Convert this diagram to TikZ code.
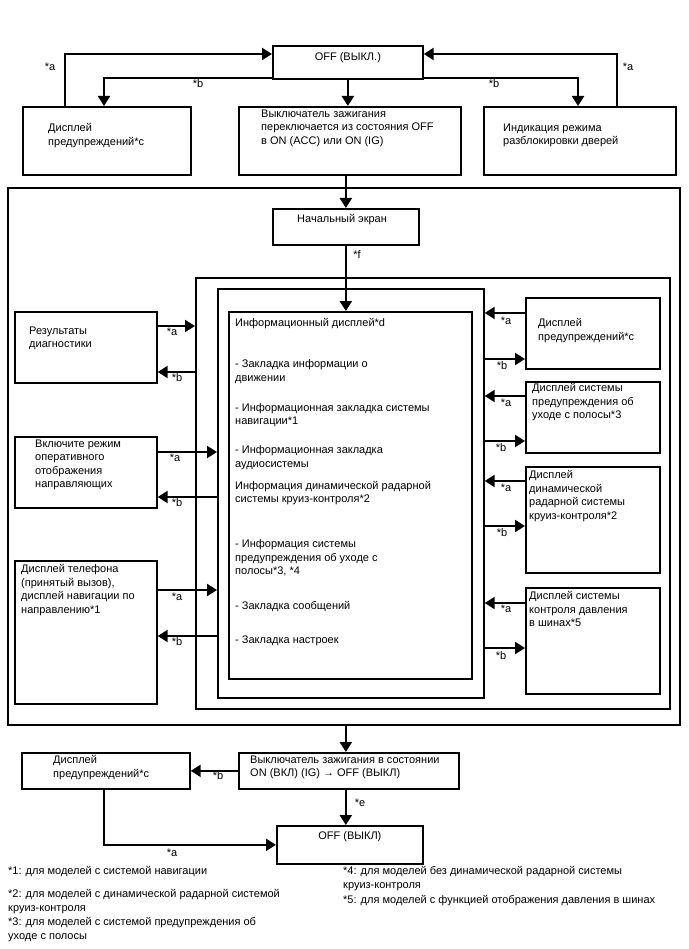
\documentclass[tikz,border=0pt]{standalone}
\usepackage{fontspec}
\setmainfont{Liberation Sans}
\usetikzlibrary{arrows.meta}

\begin{document}
\begin{tikzpicture}[x=1pt,y=-1pt]
	\tikzset{box/.style={draw,line width=1.7pt,anchor=north west,inner sep=0pt},
		txt/.style={anchor=north west,inner sep=0pt,align=left,font=\fontsize{11}{13.5}\selectfont,execute at begin node=\strut},
		note/.style={anchor=north west,inner sep=0pt,align=left,font=\fontsize{11}{13.5}\selectfont,execute at begin node=\strut},
		lbl/.style={inner sep=0pt,font=\fontsize{11}{13}\selectfont},
		arr/.style={line width=2.2pt,-{Triangle[length=10pt,width=12pt]}}}
	\useasboundingbox (0,0) rectangle (688,949);
	
	\node[box,minimum width=150pt,minimum height=33pt] (offtop) at (272,45) {};
	\node[box,minimum width=168pt,minimum height=68pt] (warn1) at (22,106) {};
	\node[box,minimum width=222pt,minimum height=68pt] (ign1) at (238,106) {};
	\node[box,minimum width=192pt,minimum height=68pt] (door) at (483,106) {};
	\node[lbl,anchor=north] (offtopt) at ([yshift=-7pt]offtop.north) {OFF (ВЫКЛ.)};
	\node[txt] (warn1t) at (48,123.5) {Дисплей\\предупреждений*c};
	\node[txt] (ign1t) at (261,109.5) {Выключатель зажигания\\переключается из состояния OFF\\в ON (ACC) или ON (IG)};
	\node[txt] (doort) at (503,123.5) {Индикация режима\\разблокировки дверей};
	
	\draw[arr] ([xshift=43pt]warn1.north west) |- ([yshift=-9pt]offtop.north west);
	\draw[arr] ([yshift=1.5pt]offtop.south west) -| ([xshift=82pt]warn1.north west);
	\draw[arr] ([yshift=1.5pt]offtop.south east) -| ([xshift=95pt]door.north west);
	\draw[arr] ([xshift=134pt]door.north west) |- ([yshift=-9pt]offtop.north east);
	\draw[arr] (offtop.south) -- (offtop.south |- ign1.north);
	\node[lbl] (a1) at (50,67) {*a};
	\node[lbl] (b1) at (198,84) {*b};
	\node[lbl] (b2) at (494,84) {*b};
	\node[lbl] (a2) at (628,67) {*a};
	
	\node[box,minimum width=672pt,minimum height=537pt] (frame) at (7,187) {};
	\node[box,minimum width=146pt,minimum height=36pt] (start) at (272,208) {};
	\node[txt] (startt) at (297,212.5) {Начальный экран};
	\node[box,minimum width=474pt,minimum height=431pt] (frame2) at (195,277) {};
	\node[box,minimum width=266pt,minimum height=409pt] (frame3) at (217,288) {};
	\node[box,minimum width=243pt,minimum height=367pt] (info) at (228,311) {};
	\node[txt] (infot) at (235,318.5) {Информационный дисплей*d\\[27.5pt]
		- Закладка информации о\\движении\\[16.5pt]
		- Информационная закладка системы\\навигации*1\\[15.5pt]
		- Информационная закладка\\аудиосистемы\\[8.5pt]
		Информация динамической радарной\\системы круиз-контроля*2\\[31.5pt]
		- Информация системы\\предупреждения об уходе с\\полосы*3, *4\\[21.5pt]
		- Закладка сообщений\\[20.5pt]
		- Закладка настроек};
	\draw[arr] (start.north |- ign1.south) -- (start.north);
	\draw[arr] (start.south) -- (start.south |- info.north);
	\node[lbl] (f1) at (357,255) {*f};
	
	\node[box,minimum width=142pt,minimum height=71pt] (diag) at (14,311) {};
	\node[box,minimum width=142pt,minimum height=71pt] (guide) at (14,436) {};
	\node[box,minimum width=142pt,minimum height=143pt] (phone) at (14,560) {};
	\node[txt] (diagt) at (29,326.5) {Результаты\\диагностики};
	\node[txt] (guidet) at (35,439.5) {Включите режим\\оперативного\\отображения\\направляющих};
	\node[txt] (phonet) at (21,564.5) {Дисплей телефона\\(принятый вызов),\\дисплей навигации по\\направлению*1};
	\draw[arr] (diag.east |- 0,326) -- (frame2.west |- 0,326);
	\draw[arr] (frame2.west |- 0,372) -- (diag.east |- 0,372);
	\draw[arr] (guide.east |- 0,452) -- (frame3.west |- 0,452);
	\draw[arr] (frame3.west |- 0,497) -- (guide.east |- 0,497);
	\draw[arr] (phone.east |- 0,590) -- (frame3.west |- 0,590);
	\draw[arr] (frame3.west |- 0,636) -- (phone.east |- 0,636);
	\node[lbl] (a3) at (172,332) {*a};
	\node[lbl] (b3) at (177,378) {*b};
	\node[lbl] (a4) at (175,458) {*a};
	\node[lbl] (b4) at (177,503) {*b};
	\node[lbl] (a5) at (177,597) {*a};
	\node[lbl] (b5) at (177,642) {*b};
	
	\node[box,minimum width=134pt,minimum height=71pt] (warn2) at (525,297) {};
	\node[box,minimum width=134pt,minimum height=71pt] (lane) at (525,381) {};
	\node[box,minimum width=134pt,minimum height=106pt] (acc) at (525,466) {};
	\node[box,minimum width=134pt,minimum height=106pt] (tire) at (525,587) {};
	\node[txt] (warn2t) at (538,318.5) {Дисплей\\предупреждений*c};
	\node[txt] (lanet) at (532,383.5) {Дисплей системы\\предупреждения об\\уходе с полосы*3};
	\node[txt] (acct) at (529,470.5) {Дисплей\\динамической\\радарной системы\\круиз-контроля*2};
	\node[txt] (tiret) at (529,591.5) {Дисплей системы\\контроля давления\\в шинах*5};
	\draw[arr] (warn2.west |- 0,313) -- (frame3.east |- 0,313);
	\draw[arr] (frame3.east |- 0,359) -- (warn2.west |- 0,359);
	\draw[arr] (lane.west |- 0,396) -- (frame3.east |- 0,396);
	\draw[arr] (frame3.east |- 0,441) -- (lane.west |- 0,441);
	\draw[arr] (acc.west |- 0,481) -- (frame3.east |- 0,481);
	\draw[arr] (frame3.east |- 0,526) -- (acc.west |- 0,526);
	\draw[arr] (tire.west |- 0,603) -- (frame3.east |- 0,603);
	\draw[arr] (frame3.east |- 0,648) -- (tire.west |- 0,648);
	\node[lbl] (a6) at (506,321) {*a};
	\node[lbl] (b6) at (502,366) {*b};
	\node[lbl] (a7) at (506,403) {*a};
	\node[lbl] (b7) at (501,448) {*b};
	\node[lbl] (a8) at (506,488) {*a};
	\node[lbl] (b8) at (502,533) {*b};
	\node[lbl] (a9) at (506,609) {*a};
	\node[lbl] (b9) at (501,656) {*b};
	
	\node[box,minimum width=220pt,minimum height=36pt] (ign2) at (238,752) {};
	\node[box,minimum width=168pt,minimum height=36pt] (warn3) at (21,752) {};
	\node[box,minimum width=146pt,minimum height=38pt] (offbot) at (276,825) {};
	\node[txt] (ign2t) at (250,755.5) {Выключатель зажигания в состоянии\\ON (ВКЛ) (IG) → OFF (ВЫКЛ)};
	\node[txt] (warn3t) at (53,755.5) {Дисплей\\предупреждений*c};
	\node[lbl,anchor=north] (offbott) at ([yshift=-6pt]offbot.north) {OFF (ВЫКЛ)};
	\draw[arr] (frame.south -| start) -- (ign2.north -| start);
	\draw[arr] (ign2.west) -- (warn3.east |- ign2.west);
	\draw[arr] (ign2.south -| start) -- (offbot.north -| start);
	\draw[arr] ([xshift=83pt]warn3.south west) |- (offbot.west);
	\node[lbl] (b10) at (218,776) {*b};
	\node[lbl] (e1) at (360,803) {*e};
	\node[lbl] (a10) at (172,853) {*a};
	
	\node[note] (fn1) at (8,864.5) {*1: для моделей с системой навигации};
	\node[note] (fn2) at (8,889.5) {*2: для моделей с динамической радарной системой\\круиз-контроля};
	\node[note] (fn3) at (8,917.5) {*3: для моделей с системой предупреждения об\\уходе с полосы};
	\node[note] (fn4) at (343,866.5) {*4: для моделей без динамической радарной системы\\круиз-контроля};
	\node[note] (fn5) at (343,893.5) {*5: для моделей с функцией отображения давления в шинах};
\end{tikzpicture}
\end{document}
